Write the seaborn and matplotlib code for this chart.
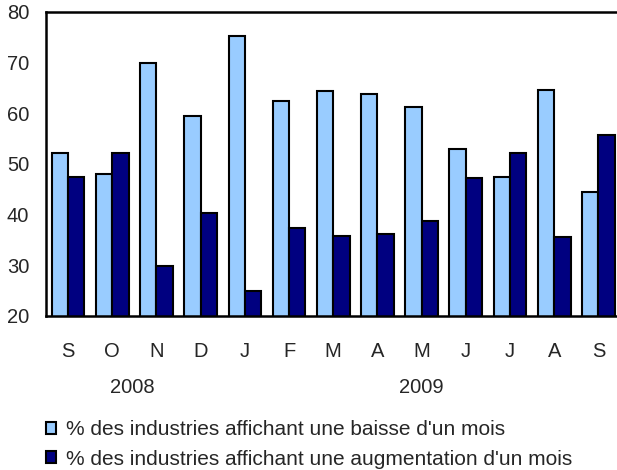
import numpy as np
import pandas as pd
import matplotlib
matplotlib.use("Agg")
import matplotlib.pyplot as plt
import seaborn as sns

months = ["S", "O", "N", "D", "J", "F", "M", "A", "M", "J", "J", "A", "S"]
baisse = [52.1, 48.0, 70.0, 59.5, 75.2, 62.4, 64.5, 63.9, 61.2, 52.9, 47.5, 64.7, 44.5]
hausse = [47.5, 52.1, 29.9, 40.4, 24.9, 37.4, 35.8, 36.2, 38.8, 47.2, 52.2, 35.5, 55.8]
labels = ["% des industries affichant une baisse d'un mois",
          "% des industries affichant une augmentation d'un mois"]
years = ["2008", "2009"]
year_pos = [1.45, 8.0]

idx = list(range(len(months)))
df = pd.DataFrame({
    "pos": idx * 2,
    "val": baisse + hausse,
    "serie": [labels[0]] * len(months) + [labels[1]] * len(months),
})

sns.set_style("white")
plt.rcParams['font.family'] = ['Liberation Sans', 'DejaVu Sans']

fig = plt.figure(figsize=(6.17, 4.70), dpi=100)
ax = fig.add_axes([0.0746, 0.3277, 0.931, 0.6468])

sns.barplot(data=df, x="pos", y="val", hue="serie", palette=["#99CCFF", "#000080"],
            edgecolor="black", linewidth=1.5, width=0.74, saturation=1, ax=ax)

ax.set_ylim(20, 80)
ax.set_yticks([20, 30, 40, 50, 60, 70, 80])
ax.set_xlim(-0.5, len(months) - 0.5)
ax.set_xticks(idx)
ax.set_xticklabels(months)
ax.set_xlabel("")
ax.set_ylabel("")
ax.tick_params(axis="x", length=0, pad=19, labelsize=14.5)
ax.tick_params(axis="y", length=0, pad=12, labelsize=14.5)

for s in ["left", "top", "bottom"]:
    ax.spines[s].set_color("black")
    ax.spines[s].set_linewidth(1.8)
ax.spines["right"].set_visible(False)

for y, p in zip(years, year_pos):
    ax.text(p, -0.234, y, transform=ax.get_xaxis_transform(), ha="center", va="center", fontsize=14.5)

handles, lbls = ax.get_legend_handles_labels()
ax.get_legend().remove()
fig.legend(handles, lbls, loc="upper left", bbox_to_anchor=(0.0746, 0.106), frameon=False,
           fontsize=15, handlelength=0.5, handleheight=0.5, handletextpad=0.45,
           labelspacing=0.5, borderaxespad=0, borderpad=0)

fig.savefig("out.png", dpi=100)
